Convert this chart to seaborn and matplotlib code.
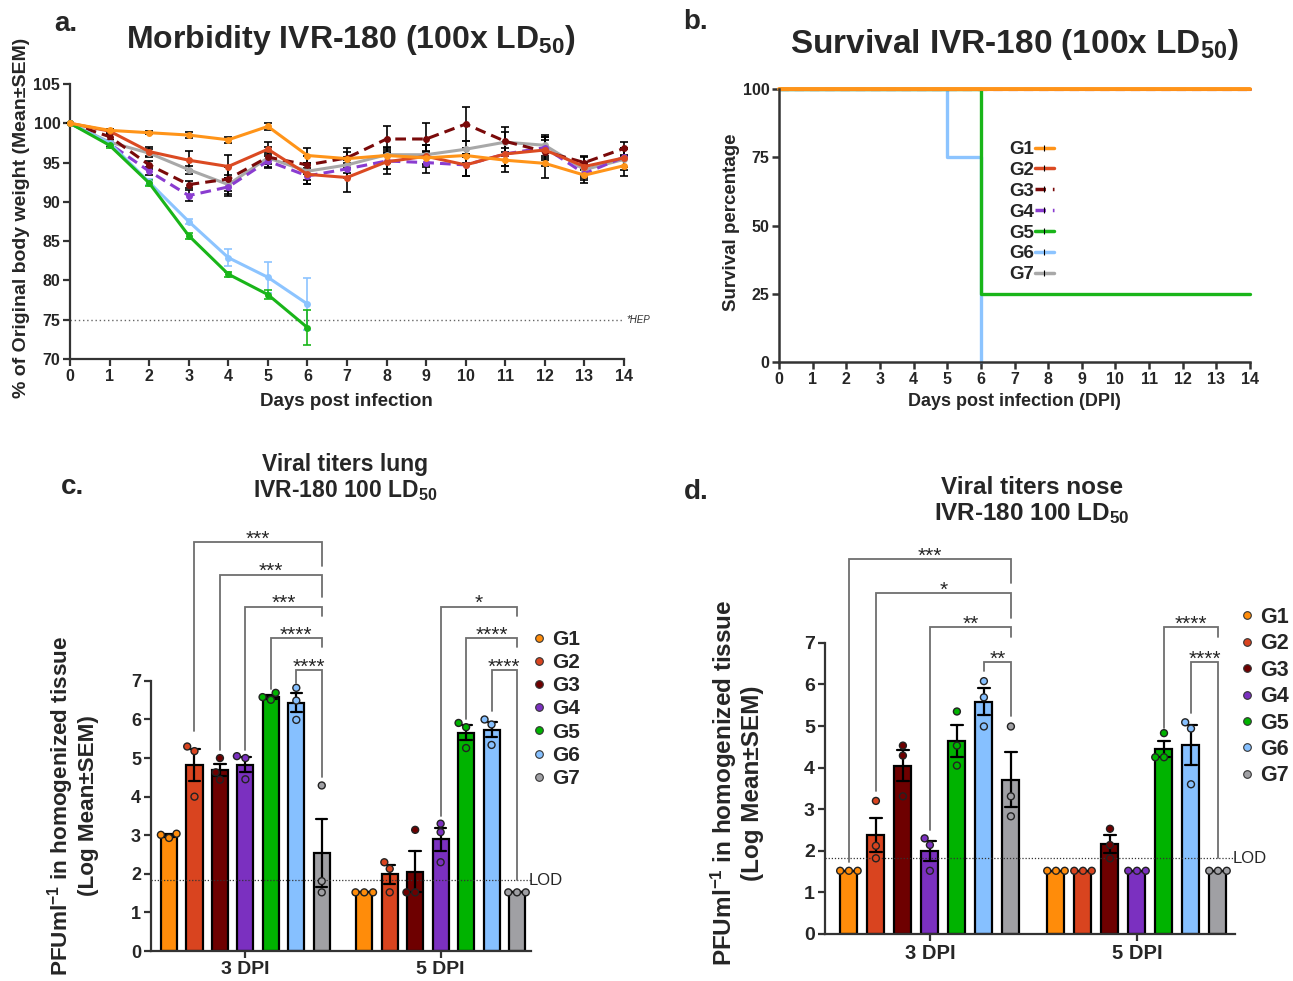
import numpy as np
import pandas as pd
import matplotlib
matplotlib.use("Agg")
import matplotlib.pyplot as plt
from matplotlib.lines import Line2D
import seaborn as sns

# ---------------- data ----------------
groups = ["G1", "G2", "G3", "G4", "G5", "G6", "G7"]
colors = ["#FF8C0A", "#D9441F", "#6E0000", "#7B30C0", "#00B300", "#86C0FF", "#A0A0A4"]

days = list(range(15))
w_G1 = [100, 99.1, 98.8, 98.5, 97.9, 99.6, 95.9, 95.5, 95.9, 95.6, 95.9, 95.3, 94.9, 93.4, 94.6]
w_G2 = [100, 99.0, 96.4, 95.3, 94.5, 96.7, 93.5, 93.1, 95.1, 95.8, 94.7, 96.1, 96.6, 94.5, 95.6]
w_G3 = [100, 98.3, 94.7, 92.2, 92.9, 95.7, 94.7, 95.6, 98.0, 98.0, 99.9, 97.7, 96.4, 95.0, 96.8]
w_G4 = [100, 97.4, 93.9, 90.8, 91.9, 95.2, 93.3, 94.2, 95.2, 95.0, 94.7, 96.1, 96.9, 93.6, 95.7]
w_G5 = [100, 97.2, 92.4, 85.7, 80.8, 78.2, 74.0]
w_G6 = [100, 97.5, 92.5, 87.5, 82.9, 80.4, 77.0]
w_G7 = [100, 97.6, 96.2, 94.1, 92.2, 95.6, 93.9, 94.7, 96.0, 96.0, 96.7, 97.6, 97.2, 94.1, 95.4]

sem_G1 = [0, 0.2, 0.2, 0.4, 0.4, 0.5, 1.0, 0.8, 1.0, 0.9, 1.0, 1.5, 1.8, 0.6, 1.3]
sem_G2 = [0, 0.3, 0.6, 1.2, 1.5, 0.9, 1.2, 1.8, 1.5, 1.4, 1.4, 1.5, 1.3, 1.2, 1.2]
sem_G3 = [0, 0.4, 0.5, 0.4, 1.5, 1.3, 1.2, 1.3, 1.6, 2.1, 2.2, 1.8, 1.8, 0.8, 0.8]
sem_G4 = [0, 0.3, 0.5, 0.7, 1.2, 0.9, 1.0, 1.1, 1.0, 1.3, 1.4, 1.5, 1.3, 1.2, 1.2]
sem_G5 = [0, 0.3, 0.4, 0.4, 0.3, 0.6, 2.2]
sem_G6 = [0, 0.3, 0.4, 0.3, 1.1, 2.0, 3.3]
sem_G7 = [0, 0.3, 0.5, 0.5, 1.2, 0.8, 1.1, 1.0, 1.0, 1.2, 1.0, 1.3, 1.3, 1.0, 1.3]
hep_level = 75

surv_t_alive = [0, 14]
surv_p_alive = [100, 100]
surv_t_G5 = [0, 6, 14]
surv_p_G5 = [100, 25, 25]
surv_t_G6 = [0, 5, 6]
surv_p_G6 = [100, 75, 0]

dpi_labels = ["3 DPI", "5 DPI"]
lung_3dpi = [[2.93, 3.04, 3.01], [5.30, 5.18, 4.00], [5.00, 4.63, 4.44], [5.05, 5.00, 4.45],
             [6.69, 6.58, 6.51], [6.82, 6.49, 5.99], [4.29, 1.81, 1.52]]
lung_5dpi = [[1.52, 1.52, 1.52], [2.30, 2.13, 1.52], [3.14, 1.52, 1.52], [3.30, 3.08, 2.30],
             [5.91, 5.80, 5.26], [6.00, 5.87, 5.34], [1.52, 1.52, 1.52]]
nose_3dpi = [[1.52, 1.52, 1.52], [3.20, 2.12, 1.82], [4.53, 4.29, 3.31], [2.30, 2.14, 1.52],
             [5.35, 4.53, 4.05], [6.08, 5.69, 4.99], [4.99, 3.31, 2.83]]
nose_5dpi = [[1.52, 1.52, 1.52], [1.52, 1.52, 1.52], [2.53, 2.14, 1.82], [1.52, 1.52, 1.52],
             [4.83, 4.25, 4.25], [5.09, 4.94, 3.60], [1.52, 1.52, 1.52]]
lod_lung = 1.83
lod_nose = 1.82

# comparisons: (dpi index, group a, group b, label)
lung_cmp = [(0, 1, 6, "***"), (0, 2, 6, "***"), (0, 3, 6, "***"), (0, 4, 6, "****"), (0, 5, 6, "****"),
            (1, 3, 6, "*"), (1, 4, 6, "****"), (1, 5, 6, "****")]
nose_cmp = [(0, 0, 6, "***"), (0, 1, 6, "*"), (0, 3, 6, "**"), (0, 5, 6, "**"),
            (1, 4, 6, "****"), (1, 5, 6, "****")]

# ---------------- style ----------------
sns.set_style("ticks")
plt.rcParams["font.family"] = ["Liberation Sans", "DejaVu Sans"]
plt.rcParams["font.weight"] = "bold"
plt.rcParams["axes.labelweight"] = "bold"
plt.rcParams["mathtext.default"] = "regular"
SPINE = "#333333"

W, H = 1293, 981
fig = plt.figure(figsize=(W / 100, H / 100), dpi=100)


def fx(px):
    return px / W


def fy(py):
    return 1 - py / H


def style_axes(ax, lw=1.6, ticklen=5, labelsize=11):
    sns.despine(ax=ax)
    for sp in ("left", "bottom"):
        ax.spines[sp].set_linewidth(lw)
        ax.spines[sp].set_color(SPINE)
    ax.tick_params(width=lw, length=ticklen, color=SPINE, labelsize=labelsize, pad=2)
    for lab in ax.get_xticklabels() + ax.get_yticklabels():
        lab.set_fontweight("bold")


# ---------------- panel a ----------------
axA = fig.add_axes([fx(70), fy(359), fx(624) - fx(70), fy(84) - fy(359)])
wlist = [w_G1, w_G2, w_G3, w_G4, w_G5, w_G6, w_G7]
slist = [sem_G1, sem_G2, sem_G3, sem_G4, sem_G5, sem_G6, sem_G7]
lstyles = ["-", "-", (0, (3.5, 2)), (0, (3.5, 2)), "-", "-", "-"]
line_cols = ["#FF9419", "#DB4A22", "#7A0A0A", "#8A3CD0", "#19B519", "#8CC4FF", "#A8A8A8"]
err_cols = ["k", "k", "k", "k", "#19B519", "#8CC4FF", "k"]
order = [6, 3, 2, 1, 5, 4, 0]
for i in order:
    d = days[:len(wlist[i])]
    axA.errorbar(d, wlist[i], yerr=slist[i], fmt="none", ecolor=err_cols[i], elinewidth=1.2,
                 capsize=3, capthick=1.2, clip_on=False, zorder=2)
    sns.lineplot(x=d, y=wlist[i], color=line_cols[i], linewidth=2.2, linestyle=lstyles[i],
                 marker="o", markersize=5, markeredgewidth=0, ax=axA, clip_on=False, zorder=3,
                 legend=False, errorbar=None)
axA.axhline(hep_level, ls=(0, (1, 2)), color="#666666", lw=1.0, zorder=1)
axA.text(14.05, hep_level, "*HEP", style="italic", fontweight="normal", fontsize=7,
         va="center", ha="left", color="#333333")
axA.set_xlim(0, 14)
axA.set_ylim(70, 105)
axA.set_xticks(range(0, 15))
axA.set_yticks(range(70, 106, 5))
axA.set_xlabel("")
axA.set_ylabel("")
style_axes(axA, labelsize=11.5)

# ---------------- panel b ----------------
axB = fig.add_axes([fx(779), fy(362), fx(1250) - fx(779), fy(89) - fy(362)])
surv_t = [surv_t_alive, surv_t_alive, surv_t_alive, surv_t_alive, surv_t_G5, surv_t_G6, surv_t_alive]
surv_p = [surv_p_alive, surv_p_alive, surv_p_alive, surv_p_alive, surv_p_G5, surv_p_G6, surv_p_alive]
b_ls = ["-", "-", (0, (3, 2)), (0, (3, 2)), "-", "-", "-"]
b_lw = [2.8, 2.2, 2.2, 2.2, 2.4, 2.4, 2.2]
for i in [5, 4, 6, 3, 2, 1, 0]:
    sns.lineplot(x=surv_t[i], y=surv_p[i], color=line_cols[i], linewidth=b_lw[i], linestyle=b_ls[i],
                 drawstyle="steps-post", ax=axB, clip_on=False, legend=False, errorbar=None)
axB.set_xlim(0, 14)
axB.set_ylim(0, 100)
axB.set_xticks(range(0, 15))
axB.set_yticks([0, 25, 50, 75, 100])
axB.set_xlabel("")
axB.set_ylabel("")
style_axes(axB, lw=1.8, labelsize=11.5)
handlesB = [Line2D([0], [0], color=line_cols[i], lw=2.5, ls=b_ls[i], marker="|", markersize=4,
                   markeredgecolor="k", markeredgewidth=0.8) for i in range(7)]
axB.legend(handlesB, groups, loc="upper left", bbox_to_anchor=((1009 - 779) / 471, 1 - (141 - 89) / 273),
           frameon=False, markerfirst=False, handlelength=1.0, handletextpad=0.05, labelspacing=0.2,
           borderpad=0, borderaxespad=0, prop=dict(size=13.5, weight="bold"))

# ---------------- panels c, d ----------------
GROUP_STEP = 7.67


def titer_panel(ax, data3, data5, lod, xright):
    rows = []
    for di, data in enumerate([data3, data5]):
        for gi, vals in enumerate(data):
            for v in vals:
                rows.append(dict(pos=gi + di * GROUP_STEP, group=groups[gi], value=v))
    df = pd.DataFrame(rows)
    sns.barplot(data=df, x="pos", y="value", hue="group", hue_order=groups, palette=colors,
                native_scale=True, dodge=False, width=0.63, errorbar="se", capsize=0.45,
                err_kws=dict(color="k", linewidth=1.6), edgecolor="k", linewidth=1.6,
                saturation=1, ax=ax, legend=False)
    sns.swarmplot(data=df, x="pos", y="value", hue="group", hue_order=groups, palette=colors,
                  native_scale=True, dodge=False, size=5.0, edgecolor="#222222", linewidth=1.0,
                  ax=ax, legend=False, zorder=4)
    ax.axhline(lod, ls=(0, (1, 1.5)), color="#333333", lw=0.9, zorder=1, clip_on=False)
    ax.text(xright - 0.1, lod, "LOD", fontweight="normal", fontsize=12, va="center", ha="left")
    return df


def draw_brackets(ax, cmps, ys, left_ends, right_ends, text_off):
    for (di, ga, gb, lab), y, le, re in zip(cmps, ys, left_ends, right_ends):
        xa = ga + di * GROUP_STEP
        xb = gb + di * GROUP_STEP
        ax.plot([xa, xa, xb, xb], [le, y, y, re], color="#6E6E6E", lw=1.3, clip_on=False,
                solid_joinstyle="miter")
        ax.text((xa + xb) / 2, y + text_off, lab, ha="center", va="baseline", fontsize=15,
                fontweight="normal")


# c
axC = fig.add_axes([fx(150.7), fy(951), fx(531) - fx(150.7), (951 - 520) / H])
titer_panel(axC, lung_3dpi, lung_5dpi, lod_lung, 14.22)
draw_brackets(axC, lung_cmp,
              [10.59, 9.75, 8.92, 8.10, 7.27, 8.92, 8.10, 7.27],
              [5.71, 5.20, 5.20, 6.79, 6.94, 3.51, 6.02, 6.23],
              [9.99, 9.17, 8.69, 7.87, 4.51, 8.69, 7.87, 1.83], -0.06)
axC.set_xlim(-0.72, 14.22)
axC.set_ylim(0, 11.17)
axC.set_yticks(range(0, 8))
axC.spines["left"].set_bounds(0, 7)
axC.set_xticks([3, 3 + GROUP_STEP])
axC.set_xticklabels(dpi_labels)
axC.set_xlabel("")
axC.set_ylabel("")
style_axes(axC, labelsize=13)
for lab in axC.get_xticklabels():
    lab.set_fontsize(14)

# d
axD = fig.add_axes([fx(824.6), fy(934), fx(1235) - fx(824.6), (934 - 531) / H])
titer_panel(axD, nose_3dpi, nose_5dpi, lod_nose, 14.3)
draw_brackets(axD, nose_cmp,
              [9.02, 8.19, 7.38, 6.54, 7.38, 6.54],
              [1.74, 3.43, 2.50, 6.32, 4.95, 5.31],
              [8.44, 7.60, 7.14, 5.23, 7.14, 1.82], -0.06)
axD.set_xlim(-0.90, 14.3)
axD.set_ylim(0, 9.69)
axD.set_yticks(range(0, 8))
axD.spines["left"].set_bounds(0, 7)
axD.set_xticks([3, 3 + GROUP_STEP])
axD.set_xticklabels(dpi_labels)
axD.set_xlabel("")
axD.set_ylabel("")
style_axes(axD, labelsize=14)
for lab in axD.get_xticklabels():
    lab.set_fontsize(14.5)

# legends c, d
dot_handles = [Line2D([], [], marker="o", ls="", markerfacecolor=colors[i], markeredgecolor="#333333",
                      markeredgewidth=0.8, markersize=5.5) for i in range(7)]
fig.legend(dot_handles, groups, loc="upper left", bbox_to_anchor=(fx(533), fy(630)), frameon=False,
           handlelength=0.6, handletextpad=0.3, labelspacing=0.2, borderpad=0, borderaxespad=0,
           prop=dict(size=15, weight="bold"))
fig.legend(dot_handles, groups, loc="upper left", bbox_to_anchor=(fx(1241), fy(607)), frameon=False,
           handlelength=0.6, handletextpad=0.3, labelspacing=0.25, borderpad=0, borderaxespad=0,
           prop=dict(size=15.5, weight="bold"))

# ---------------- texts ----------------
fig.text(fx(66), fy(24), "a.", fontsize=20, fontweight="bold", ha="center", va="center")
fig.text(fx(696), fy(22), "b.", fontsize=20, fontweight="bold", ha="center", va="center")
fig.text(fx(72), fy(487), "c.", fontsize=20, fontweight="bold", ha="center", va="center")
fig.text(fx(696), fy(492), "d.", fontsize=20, fontweight="bold", ha="center", va="center")

fig.text(fx(351), fy(40), "Morbidity IVR-180 (100x LD$_{50}$)", fontsize=23, fontweight="bold",
         ha="center", va="center")
fig.text(fx(1014), fy(45), "Survival IVR-180 (100x LD$_{50}$)", fontsize=24, fontweight="bold",
         ha="center", va="center")
fig.text(fx(345), fy(478), "Viral titers lung\nIVR-180 100 LD$_{50}$", fontsize=16.5, fontweight="bold",
         ha="center", va="center", linespacing=1.15)
fig.text(fx(1032), fy(501), "Viral titers nose\nIVR-180 100 LD$_{50}$", fontsize=17.5, fontweight="bold",
         ha="center", va="center", linespacing=1.15)

fig.text(fx(22), fy(218), "% of Original body weight (Mean±SEM)", rotation=90, fontsize=14,
         fontweight="bold", ha="center", va="center")
fig.text(fx(346), fy(401), "Days post infection", fontsize=13.5, fontweight="bold", ha="center", va="center")
fig.text(fx(731), fy(222), "Survival percentage", rotation=90, fontsize=13.5, fontweight="bold",
         ha="center", va="center")
fig.text(fx(1014), fy(401), "Days post infection (DPI)", fontsize=13, fontweight="bold",
         ha="center", va="center")
fig.text(fx(72), fy(806), "PFUml$^{-1}$ in homogenized tissue\n(Log Mean±SEM)", rotation=90,
         fontsize=16.2, fontweight="bold", ha="center", va="center", linespacing=1.1)
fig.text(fx(736), fy(783), "PFUml$^{-1}$ in homogenized tissue\n(Log Mean±SEM)", rotation=90,
         fontsize=17.5, fontweight="bold", ha="center", va="center", linespacing=1.1)

fig.savefig("out.png", dpi=100)
